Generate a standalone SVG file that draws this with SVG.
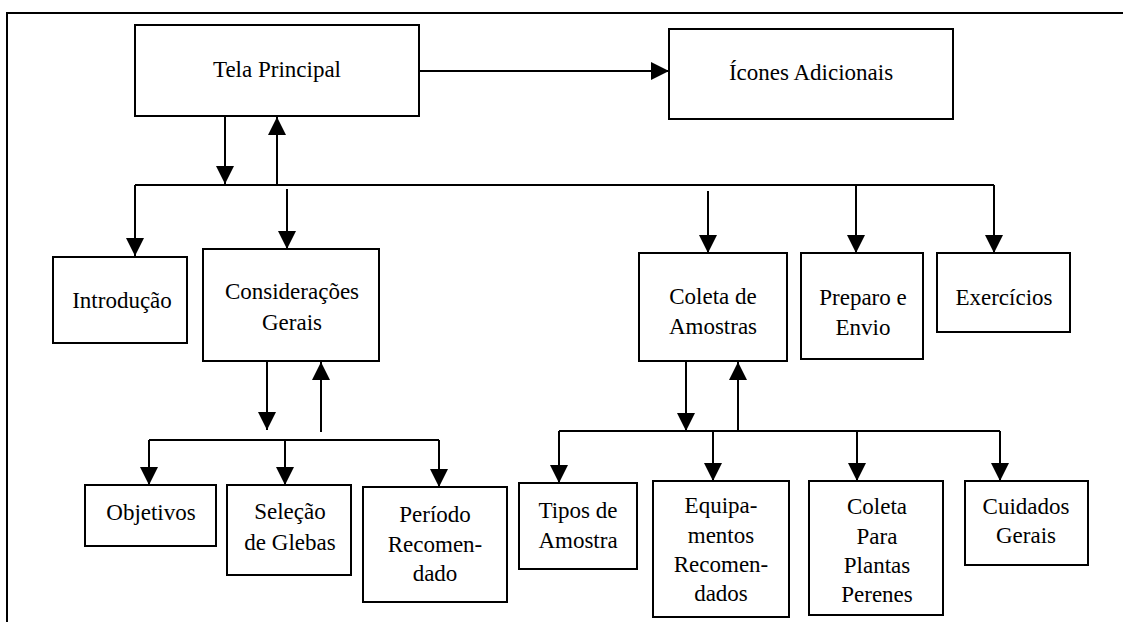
<svg xmlns="http://www.w3.org/2000/svg" width="1123" height="622" viewBox="0 0 1123 622">
  <style>
    .box { fill: #ffffff; stroke: #000000; stroke-width: 2; }
    .lbl { font-family: "Liberation Serif", "Times New Roman", serif; font-size: 23px; fill: #000000; text-anchor: middle; }
    .wire { fill: none; stroke: #000000; stroke-width: 2; }
    .arrow { fill: none; stroke: #000000; stroke-width: 2; marker-end: url(#head); }
  </style>
  <defs>
    <marker id="head" markerUnits="userSpaceOnUse" markerWidth="18" markerHeight="18" refX="18" refY="9" orient="auto">
      <path d="M0,0 L18,9 L0,18 Z" fill="#000000"/>
    </marker>
  </defs>

  <rect width="1123" height="622" fill="#ffffff"/>

  <!-- page frame -->
  <path class="wire" d="M7,622 V13 H1123"/>

  <g id="connectors">
    <!-- top level -->
    <line class="arrow" x1="419" y1="71" x2="669" y2="71"/>
    <line class="arrow" x1="225" y1="116" x2="225" y2="184"/>
    <line class="arrow" x1="277" y1="185" x2="277" y2="117"/>

    <!-- main bus -->
    <line class="wire" x1="135" y1="185" x2="994" y2="185"/>
    <line class="arrow" x1="135" y1="185" x2="135" y2="256"/>
    <line class="arrow" x1="287" y1="189" x2="287" y2="249"/>
    <line class="arrow" x1="708" y1="191" x2="708" y2="253"/>
    <line class="arrow" x1="856" y1="185" x2="856" y2="253"/>
    <line class="arrow" x1="994" y1="185" x2="994" y2="253"/>

    <!-- Considerações sub-tree -->
    <line class="arrow" x1="267" y1="361" x2="267" y2="430"/>
    <line class="arrow" x1="321" y1="432" x2="321" y2="362"/>
    <line class="wire" x1="149" y1="440" x2="439" y2="440"/>
    <line class="arrow" x1="149" y1="440" x2="149" y2="485"/>
    <line class="arrow" x1="285" y1="440" x2="285" y2="485"/>
    <line class="arrow" x1="439" y1="440" x2="439" y2="487"/>

    <!-- Coleta de Amostras sub-tree -->
    <line class="arrow" x1="686" y1="361" x2="686" y2="431"/>
    <line class="arrow" x1="738" y1="431" x2="738" y2="362"/>
    <line class="wire" x1="559" y1="431" x2="1000" y2="431"/>
    <line class="arrow" x1="559" y1="431" x2="559" y2="483"/>
    <line class="arrow" x1="713" y1="431" x2="713" y2="481"/>
    <line class="arrow" x1="857" y1="431" x2="857" y2="481"/>
    <line class="arrow" x1="1000" y1="431" x2="1000" y2="481"/>
  </g>

  <g id="tela-principal">
    <rect class="box" x="135" y="25" width="284" height="91"/>
    <text class="lbl" x="277" y="77">Tela Principal</text>
  </g>

  <g id="icones-adicionais">
    <rect class="box" x="669" y="29" width="284" height="90"/>
    <text class="lbl" x="811" y="80">Ícones Adicionais</text>
  </g>

  <g id="introducao">
    <rect class="box" x="53" y="257" width="134" height="86"/>
    <text class="lbl" x="122" y="308">Introdução</text>
  </g>

  <g id="consideracoes-gerais">
    <rect class="box" x="203" y="249" width="176" height="112"/>
    <text class="lbl" x="292" y="299">Considerações</text>
    <text class="lbl" x="292" y="330">Gerais</text>
  </g>

  <g id="coleta-de-amostras">
    <rect class="box" x="639" y="253" width="148" height="108"/>
    <text class="lbl" x="713" y="304">Coleta de</text>
    <text class="lbl" x="713" y="334">Amostras</text>
  </g>

  <g id="preparo-e-envio">
    <rect class="box" x="801" y="253" width="122" height="106"/>
    <text class="lbl" x="863" y="305">Preparo e</text>
    <text class="lbl" x="863" y="335">Envio</text>
  </g>

  <g id="exercicios">
    <rect class="box" x="937" y="253" width="133" height="79"/>
    <text class="lbl" x="1004" y="305">Exercícios</text>
  </g>

  <g id="objetivos">
    <rect class="box" x="85" y="485" width="131" height="61"/>
    <text class="lbl" x="151" y="520">Objetivos</text>
  </g>

  <g id="selecao-de-glebas">
    <rect class="box" x="227" y="485" width="124" height="90"/>
    <text class="lbl" x="290" y="519">Seleção</text>
    <text class="lbl" x="290" y="550">de Glebas</text>
  </g>

  <g id="periodo-recomendado">
    <rect class="box" x="363" y="487" width="144" height="115"/>
    <text class="lbl" x="435" y="522">Período</text>
    <text class="lbl" x="435" y="552">Recomen-</text>
    <text class="lbl" x="435" y="581">dado</text>
  </g>

  <g id="tipos-de-amostra">
    <rect class="box" x="519" y="483" width="118" height="86"/>
    <text class="lbl" x="578" y="518">Tipos de</text>
    <text class="lbl" x="578" y="548">Amostra</text>
  </g>

  <g id="equipamentos-recomendados">
    <rect class="box" x="653" y="481" width="136" height="136"/>
    <text class="lbl" x="721" y="513">Equipa-</text>
    <text class="lbl" x="721" y="543">mentos</text>
    <text class="lbl" x="721" y="572">Recomen-</text>
    <text class="lbl" x="721" y="601">dados</text>
  </g>

  <g id="coleta-para-plantas-perenes">
    <rect class="box" x="809" y="481" width="134" height="134"/>
    <text class="lbl" x="877" y="514">Coleta</text>
    <text class="lbl" x="877" y="544">Para</text>
    <text class="lbl" x="877" y="573">Plantas</text>
    <text class="lbl" x="877" y="602">Perenes</text>
  </g>

  <g id="cuidados-gerais">
    <rect class="box" x="965" y="481" width="123" height="84"/>
    <text class="lbl" x="1026" y="514">Cuidados</text>
    <text class="lbl" x="1026" y="543">Gerais</text>
  </g>
</svg>
